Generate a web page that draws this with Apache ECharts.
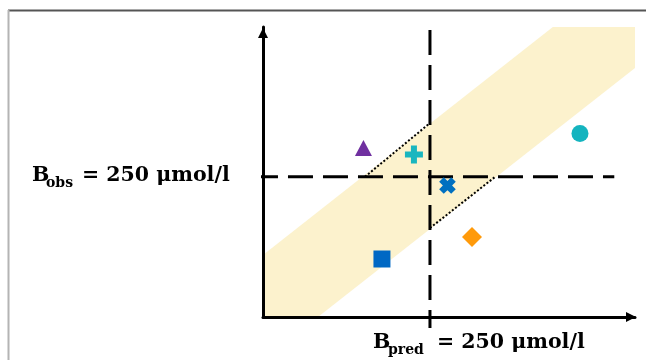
<!DOCTYPE html>
<html><head><meta charset="utf-8">
<script src="https://cdn.jsdelivr.net/npm/echarts@6/dist/echarts.min.js"></script>
<style>html,body{margin:0;padding:0;background:#fff}#c{width:646px;height:360px}</style>
</head><body><div id="c"></div>
<script>
// ---- data (values in µmol/l-like plot units) ----
const xRange = [0, 557];
const yRange = [0, 517];
const threshold = 250;
// tolerance band polygon (B_obs vs B_pred)
const bandX = [0, 0, 434, 557, 557, 82.3];
const bandY = [0, 110.5, 517, 517, 444, 0];
// threshold lines
const hLineX = [-15, 526];
const hLineY = [threshold, threshold];
const vLineX = [threshold, threshold];
const vLineY = [511.5, -19.6];
// dotted band edges inside the threshold quadrants
const upperDotX = [152.7, 250];
const upperDotY = [250, 345.8];
const lowerDotX = [250, 347.3];
const lowerDotY = [158.6, 249.6];
// observations
const pointNames = ['triangle', 'plus', 'cross', 'diamond', 'square', 'circle'];
const pointX = [150.4, 226, 276.2, 312.9, 178.1, 474.6];
const pointY = [301.2, 289.7, 234.4, 142.6, 103.4, 327.1];

// ---- styles ----
const PLUS = 'path://M-1,-3H1V-1H3V1H1V3H-1V1H-3V-1H-1Z';
const XSHAPE = 'path://M-1.15,-3H1.15V-1.15H3V1.15H1.15V3H-1.15V1.15H-3V-1.15H-1.15Z';
const markerStyle = {
  triangle: {symbol: 'triangle', size: [17, 16], color: '#7030a0', rotate: 0},
  plus:     {symbol: PLUS, size: 18, color: '#19b6bf', rotate: 0},
  cross:    {symbol: XSHAPE, size: 17, color: '#0070c0', rotate: 45},
  diamond:  {symbol: 'diamond', size: [20, 20], color: '#ff9a0a', rotate: 0},
  square:   {symbol: 'rect', size: 17, color: '#0068c4', rotate: 0},
  circle:   {symbol: 'circle', size: 17, color: '#14b4bf', rotate: 0}
};

const zip = (a, b) => a.map((v, i) => [v, b[i]]);
const font = "bold 20.5px 'DejaVu Serif'";
const subFont = "bold 14px 'DejaVu Serif'";

const chart = echarts.init(document.getElementById('c'), null, {renderer: 'canvas'});
const series = [
  {
    type: 'custom', z: -1, silent: true,
    data: [0],
    renderItem: function (params, api) {
      const pts = bandX.map((x, i) => api.coord([x, bandY[i]]));
      return {type: 'polygon', shape: {points: pts}, style: {fill: '#fcf2cd'}};
    }
  },
  {type: 'line', data: zip(hLineX, hLineY), symbol: 'none', clip: false, silent: true, z: 3,
   lineStyle: {color: '#000', width: 3, type: [25, 10]}},
  {type: 'line', data: zip(vLineX, vLineY), symbol: 'none', clip: false, silent: true, z: 3,
   lineStyle: {color: '#000', width: 3, type: [25, 10]}},
  {type: 'line', data: zip(upperDotX, upperDotY), symbol: 'none', clip: false, silent: true, z: 3,
   lineStyle: {color: '#000', width: 2, type: [2, 2]}},
  {type: 'line', data: zip(lowerDotX, lowerDotY), symbol: 'none', clip: false, silent: true, z: 3,
   lineStyle: {color: '#000', width: 2, type: [2, 2]}}
];
pointNames.forEach((n, i) => {
  const s = markerStyle[n];
  series.push({
    type: 'scatter', name: n, z: 5, clip: false,
    data: [[pointX[i], pointY[i]]],
    symbol: s.symbol, symbolSize: s.size, symbolRotate: s.rotate,
    itemStyle: {color: s.color, opacity: 1}
  });
});

const txt = (x, y, text, f) => ({type: 'text', x: x, y: y,
  style: {text: text, font: f, fill: '#000', textAlign: 'left', textVerticalAlign: 'middle', align: 'left', verticalAlign: 'middle'}});

chart.setOption({
  animation: false,
  backgroundColor: '#fff',
  grid: {left: 263, right: 11, top: 27, bottom: 43},
  xAxis: {
    type: 'value', min: xRange[0], max: xRange[1],
    axisLine: {show: true, onZero: false, lineStyle: {color: '#000', width: 3},
               symbol: ['none', 'triangle'], symbolSize: [10, 10], symbolOffset: [0, -4]},
    axisTick: {show: false}, axisLabel: {show: false}, splitLine: {show: false}
  },
  yAxis: {
    type: 'value', min: yRange[0], max: yRange[1],
    axisLine: {show: true, onZero: false, lineStyle: {color: '#000', width: 3},
               symbol: ['none', 'triangle'], symbolSize: [10, 10], symbolOffset: [0, -6]},
    axisTick: {show: false}, axisLabel: {show: false}, splitLine: {show: false}
  },
  graphic: [
    {type: 'line', shape: {x1: 8, y1: 10.5, x2: 646, y2: 10.5}, style: {stroke: '#555', lineWidth: 2}},
    {type: 'line', shape: {x1: 8.5, y1: 10, x2: 8.5, y2: 360}, style: {stroke: '#b4b4b4', lineWidth: 2}},
    txt(32, 176, 'B', font),
    txt(46, 183.5, 'obs', subFont),
    txt(82, 176, '= 250 μmol/l', font),
    txt(373, 343, 'B', font),
    txt(388, 350.5, 'pred', subFont),
    txt(437, 343, '= 250 μmol/l', font)
  ],
  series: series
});
</script></body></html>
